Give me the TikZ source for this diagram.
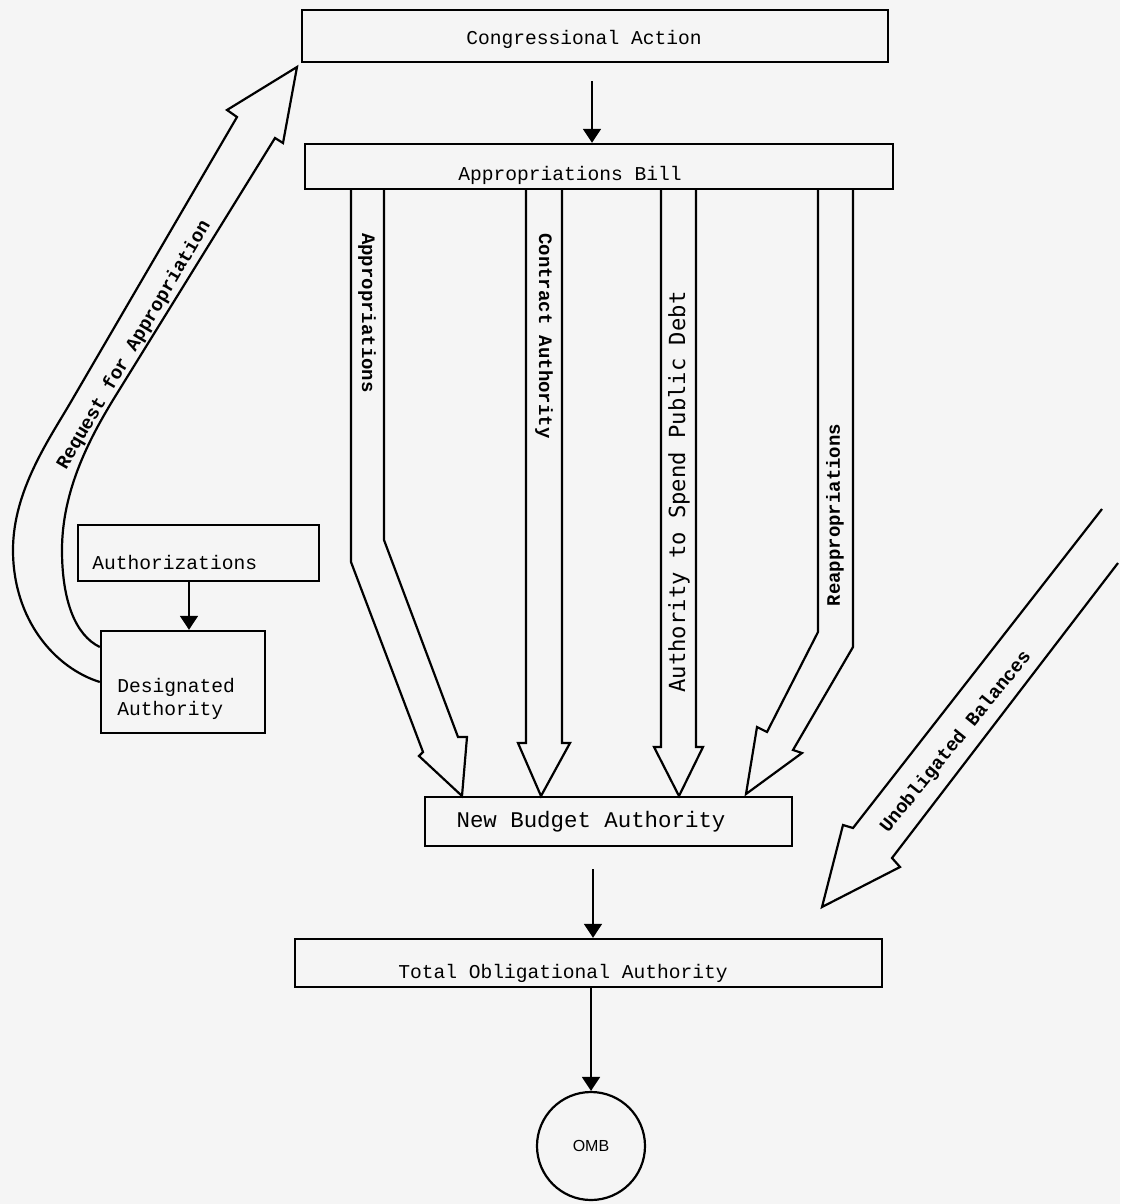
\documentclass[tikz,border=0pt]{standalone}
\usepackage{fontspec}
\setmainfont{Liberation Serif}
\setmonofont{Liberation Mono}
\setsansfont{Liberation Sans}
\newfontfamily\debtfont{DejaVu Sans Mono}
\usetikzlibrary{arrows.meta}

\begin{document}
\begin{tikzpicture}[x=0.5pt,y=-0.5pt,
		box/.style={draw, line width=1.2pt, inner sep=0pt},
		txt/.style={font=\ttfamily\fontsize{9.8}{11.5}\selectfont, inner sep=0pt},
		bandtxt/.style={font=\ttfamily\bfseries\fontsize{9.5}{11}\selectfont, inner sep=0pt},
		flow/.style={line width=0.9pt, -{Triangle[width=9pt,length=7pt]}},
		band/.style={line width=1.1pt, line join=miter}]
		\fill[black!4] (0,0) rectangle (1120,1204);
		\useasboundingbox (0,0) rectangle (1120,1204);
		
		\node[box, minimum width=293pt, minimum height=26pt] (cong) at (595,36) {};
		\node[txt] (congt) at (584,39) {Congressional Action};
		\node[box, minimum width=294pt, minimum height=22.5pt] (bill) at (599,166.5) {};
		\node[txt] (billt) at (570,175) {Appropriations Bill};
		\node[box, minimum width=120.5pt, minimum height=28pt] (auth) at (198.5,553) {};
		\node[txt, anchor=west] (autht) at (92,562) {Authorizations};
		\node[box, minimum width=82pt, minimum height=51pt] (desig) at (183,682) {};
		\node[txt, align=left, anchor=west] (desigt) at (117,699) {Designated\\Authority};
		\node[box, minimum width=183.5pt, minimum height=24.5pt] (nba) at (608.5,821.5) {};
		\node[txt, font=\ttfamily\fontsize{11.2}{13}\selectfont] (nbat) at (591,822) {New Budget Authority};
		\node[box, minimum width=293.5pt, minimum height=24pt] (toa) at (588.5,963) {};
		\node[txt] (toat) at (563,973) {Total Obligational Authority};
		\node[circle, draw, line width=1.1pt, minimum size=54pt, inner sep=0pt,
		font=\sffamily\fontsize{8}{9}\selectfont] (omb) at (591,1146) {OMB};
		
		\draw[flow, shorten <=9pt] (cong.south -| 592,0) -- (bill.north -| 592,0);
		\draw[flow] (auth.south -| 189,0) -- (desig.north -| 189,0);
		\draw[flow, shorten <=11pt] (nba.south -| 593,0) -- (toa.north -| 593,0);
		\draw[flow] (toa.south -| omb) -- (omb.north);
		
		% block arrows out of the bill
		\draw[band] (351,189) -- (351,562) -- (423,752) -- (419,756) -- (462,796) -- (467,737) -- (458,737) -- (384,540) -- (384,189);
		\draw[band] (526,189) -- (526,743) -- (518,743) -- (541,796) -- (570,743) -- (562,743) -- (562,189);
		\draw[band] (661,189) -- (661,747) -- (654,747) -- (679,796) -- (703,747) -- (696,747) -- (696,189);
		\draw[band] (818,189) -- (818,632) -- (767,732) -- (757,727) -- (746,794) -- (802,753) -- (793,750) -- (853,647) -- (853,189);
		
		% request and balances
		\draw[band] (desig.west) .. controls (55,668) and (13,620) .. (13,550) .. controls (13,490) and (50,438) .. (72,400) -- (237,117) -- (227,110) -- (297,67) -- (283,143) -- (275,138) -- (113,400) .. controls (90,438) and (62,490) .. (62,550) .. controls (62,600) and (75,635) .. ([yshift=17.5pt]desig.west);
		\draw[band] (1102,509) -- (853,828) -- (843,825) -- (822,907) -- (900,867) -- (892,858) -- (1118,563);
		
		\node[bandtxt, rotate=-90] (lappr) at (367,313) {Appropriations};
		\node[bandtxt, rotate=-90] (lcontr) at (544,336) {Contract Authority};
		\node[font=\debtfont\fontsize{11.1}{13}\selectfont, inner sep=0pt, rotate=90] (ldebt) at (679,492) {Authority to Spend Public Debt};
		\node[bandtxt, rotate=90] (lreap) at (835,515) {Reappropriations};
		\node[bandtxt, rotate=59.5] (lreq) at (134,345) {Request for Appropriation};
		\node[bandtxt, rotate=51] (lunob) at (956,742) {Unobligated Balances};
		
	\end{tikzpicture}
\end{document}
